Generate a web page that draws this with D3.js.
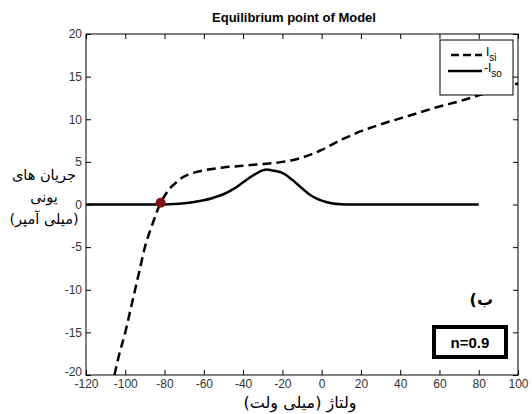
<!DOCTYPE html>
<html>
<head>
<meta charset="utf-8">
<script src="https://cdn.jsdelivr.net/npm/d3@7"></script>
<style>
body { margin: 0; background: #fff; }
svg { display: block; }
</style>
</head>
<body>
<svg id="chart" width="532" height="414"></svg>
<script>
// data
var xTicks = [-120, -100, -80, -60, -40, -20, 0, 20, 40, 60, 80, 100];
var yTicks = [-20, -15, -10, -5, 0, 5, 10, 15, 20];

var siV = [-105.5, -103, -100, -97.5, -95, -92.5, -90, -88, -86, -84, -82, -80, -78, -75, -72, -68, -64, -60, -55, -50, -45, -40, -35, -30, -25, -20, -15, -10, -5, 0, 5, 10, 15, 20, 25, 30, 40, 50, 60, 70, 80, 90, 100];
var siI = [-20, -17.5, -15, -12.5, -10, -7.5, -5, -3.5, -2.2, -0.9, 0.2, 1.0, 1.7, 2.4, 3.0, 3.5, 3.8, 4.0, 4.2, 4.35, 4.45, 4.55, 4.65, 4.75, 4.85, 5.0, 5.2, 5.5, 5.9, 6.4, 7.0, 7.6, 8.1, 8.6, 9.0, 9.4, 10.1, 10.8, 11.5, 12.1, 12.8, 13.5, 14.2];

var soV = [-120, -100, -80, -75, -70, -65, -60, -55, -50, -45, -40, -35, -30, -28, -25, -20, -15, -10, -5, 0, 5, 10, 15, 40, 80];
var soI = [0, 0, 0, 0.05, 0.15, 0.3, 0.5, 0.8, 1.2, 1.8, 2.6, 3.4, 4.0, 4.1, 4.0, 3.7, 2.9, 1.9, 1.0, 0.45, 0.15, 0.03, 0, 0, 0];

var eqV = -82, eqI = 0.2;

var svg = d3.select("#chart");
var mLeft = 86, mRight = 518, mTop = 34, mBottom = 375;

var x = d3.scaleLinear().domain([-120, 100]).range([mLeft, mRight]);
var y = d3.scaleLinear().domain([-20, 20]).range([mBottom, mTop]);
var plain = function(d) { return String(d); };

// ticks (inside, all four sides)
svg.append("g").attr("transform", "translate(0," + mBottom + ")")
  .call(d3.axisBottom(x).tickValues(xTicks).tickSizeInner(-5).tickSizeOuter(0).tickPadding(9).tickFormat(plain))
  .call(function(g) {
    g.select(".domain").remove();
    g.selectAll("text").attr("font-family", "Liberation Sans, Arial, sans-serif").attr("font-size", 12).attr("fill", "#333").attr("dy", "0.3em");
  });
svg.append("g").attr("transform", "translate(0," + mTop + ")")
  .call(d3.axisTop(x).tickValues(xTicks).tickSizeInner(-5).tickSizeOuter(0).tickFormat(""))
  .call(function(g) { g.select(".domain").remove(); });
svg.append("g").attr("transform", "translate(" + mLeft + ",0)")
  .call(d3.axisLeft(y).tickValues(yTicks).tickSizeInner(-5).tickSizeOuter(0).tickPadding(4).tickFormat(plain))
  .call(function(g) {
    g.select(".domain").remove();
    g.selectAll("text").attr("font-family", "Liberation Sans, Arial, sans-serif").attr("font-size", 12).attr("fill", "#333")
      .attr("dy", function(d) { return d === -20 ? "0.05em" : "0.32em"; });
  });
svg.append("g").attr("transform", "translate(" + mRight + ",0)")
  .call(d3.axisRight(y).tickValues(yTicks).tickSizeInner(-5).tickSizeOuter(0).tickFormat(""))
  .call(function(g) { g.select(".domain").remove(); });

svg.append("rect")
  .attr("x", mLeft).attr("y", mTop)
  .attr("width", mRight - mLeft).attr("height", mBottom - mTop)
  .attr("fill", "none").attr("stroke", "#000").attr("stroke-width", 1);

var line = d3.line().curve(d3.curveMonotoneX)
  .x(function(d) { return x(d[0]); })
  .y(function(d) { return y(d[1]); });

svg.append("path")
  .datum(soV.map(function(v, i) { return [v, soI[i]]; }))
  .attr("d", line)
  .attr("fill", "none").attr("stroke", "#000").attr("stroke-width", 2.5);

svg.append("path")
  .datum(siV.map(function(v, i) { return [v, siI[i]]; }))
  .attr("d", line)
  .attr("fill", "none").attr("stroke", "#000").attr("stroke-width", 2.5)
  .attr("stroke-dasharray", "9,5");

svg.append("circle")
  .attr("cx", x(eqV)).attr("cy", y(eqI)).attr("r", 5)
  .attr("fill", "#7d1414");

// legend
var lg = svg.append("g");
lg.append("rect").attr("x", 440).attr("y", 40).attr("width", 73).attr("height", 55)
  .attr("fill", "#fff").attr("stroke", "#000").attr("stroke-width", 1);
lg.append("line").attr("x1", 451).attr("x2", 482).attr("y1", 55).attr("y2", 55)
  .attr("stroke", "#000").attr("stroke-width", 2.5).attr("stroke-dasharray", "8,4");
lg.append("line").attr("x1", 448).attr("x2", 482).attr("y1", 71).attr("y2", 71)
  .attr("stroke", "#000").attr("stroke-width", 2.5);
var t1 = lg.append("text").attr("x", 486).attr("y", 56)
  .attr("font-family", "Liberation Sans, Arial, sans-serif").attr("font-size", 12);
t1.append("tspan").text("I");
t1.append("tspan").attr("font-size", 10).attr("dy", 5).text("si");
var t2 = lg.append("text").attr("x", 484).attr("y", 72)
  .attr("font-family", "Liberation Sans, Arial, sans-serif").attr("font-size", 12);
t2.append("tspan").text("-I");
t2.append("tspan").attr("font-size", 10).attr("dy", 5).text("so");

// title
svg.append("text").attr("x", 294).attr("y", 22).attr("text-anchor", "middle")
  .attr("font-family", "Liberation Sans, Arial, sans-serif").attr("font-size", 13).attr("font-weight", "bold")
  .text("Equilibrium point of Model");

// axis labels (Persian)
svg.append("text").attr("x", 300).attr("y", 408).attr("text-anchor", "middle")
  .attr("font-family", "DejaVu Sans, sans-serif").attr("font-size", 16).attr("direction", "rtl")
  .text("ولتاژ (میلی ولت)");
var yl = ["جریان های", "یونی", "(میلی آمپر)"];
svg.selectAll(".ylab").data(yl).enter().append("text")
  .attr("class", "ylab")
  .attr("x", 44).attr("y", function(d, i) { return 180 + i * 22; })
  .attr("text-anchor", "middle").attr("direction", "rtl")
  .attr("font-family", "DejaVu Sans, sans-serif").attr("font-size", 14.5)
  .text(function(d) { return d; });

svg.append("text").attr("x", 493).attr("y", 305).attr("text-anchor", "end")
  .attr("font-family", "DejaVu Sans, sans-serif").attr("font-size", 16).attr("font-weight", "bold")
  .text("(ب");

// n box
svg.append("rect").attr("x", 434).attr("y", 327).attr("width", 72).attr("height", 30)
  .attr("fill", "#fff").attr("stroke", "#000").attr("stroke-width", 4);
svg.append("text").attr("x", 470).attr("y", 348).attr("text-anchor", "middle")
  .attr("font-family", "Liberation Sans, Arial, sans-serif").attr("font-size", 15).attr("font-weight", "bold")
  .text("n=0.9");
</script>
</body>
</html>
